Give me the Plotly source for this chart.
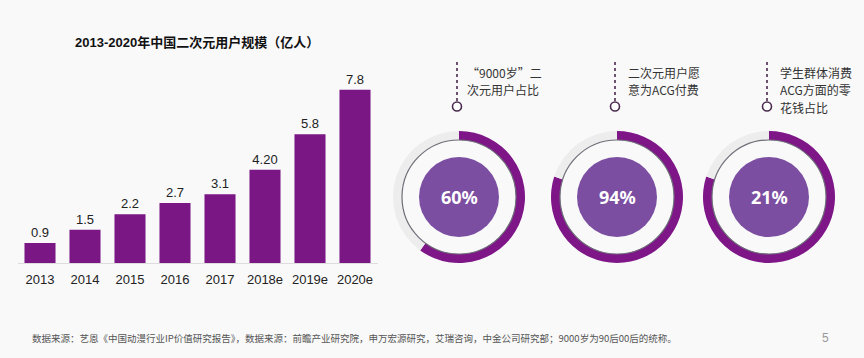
import plotly.graph_objects as go

W, H = 864, 358

# ---- data ----
years = ["2013", "2014", "2015", "2016", "2017", "2018e", "2019e", "2020e"]
users = [0.9, 1.5, 2.2, 2.7, 3.1, 4.20, 5.8, 7.8]
user_labels = ["0.9", "1.5", "2.2", "2.7", "3.1", "4.20", "5.8", "7.8"]

ring_values = ["60%", "94%", "21%"]
ring_fill = [0.60, 0.80, 0.80]  # arc share as drawn in the picture
ring_labels = [["“9000岁”二", "次元用户占比"],
               ["二次元用户愿", "意为ACG付费"],
               ["学生群体消费", "ACG方面的零", "花钱占比"]]

title = "2013-2020年中国二次元用户规模（亿人）"
footer = ("数据来源：艺恩《中国动漫行业IP价值研究报告》，数据来源：前瞻产业研究院，"
          "申万宏源研究，艾瑞咨询，中金公司研究部；9000岁为90后00后的统称。")
page_no = "5"

# ---- style ----
BAR = "#7A1785"
ARC = "#7E1688"
TRACK = "#EDEDED"
DISK = "#7B4EA1"
TXT = "#222222"
FONT = "Liberation Sans, Noto Sans CJK SC, sans-serif"
CJK = "Noto Sans CJK SC, sans-serif"

def px(x):
    return x / W

def py(y):
    return 1 - y / H

fig = go.Figure()

fig.add_trace(go.Bar(
    x=years, y=users, text=user_labels, textposition="outside",
    textfont=dict(size=13, color=TXT, family=FONT),
    marker=dict(color=BAR, line=dict(width=0)),
    width=0.69, cliponaxis=False, hoverinfo="skip",
))

centers = [459, 617, 769]
cy = 197
R_OUT, R_IN, R_DISK = 66, 57, 40
label_x = [466, 627, 779]
line_y0, line_step = 72, 17.6

shapes = []
annotations = []
for i, cx in enumerate(centers):
    fig.add_trace(go.Pie(
        values=[ring_fill[i], 1 - ring_fill[i]],
        marker=dict(colors=[ARC, TRACK], line=dict(width=0)),
        hole=R_IN / R_OUT, sort=False, direction="clockwise", rotation=0,
        textinfo="none", hoverinfo="skip", showlegend=False,
        domain=dict(x=[px(cx - R_OUT), px(cx + R_OUT)],
                    y=[py(cy + R_OUT), py(cy - R_OUT)]),
    ))
    fig.add_trace(go.Pie(
        values=[1], marker=dict(colors=[DISK], line=dict(width=0)),
        textinfo="none", hoverinfo="skip", showlegend=False,
        domain=dict(x=[px(cx - R_DISK), px(cx + R_DISK)],
                    y=[py(cy + R_DISK), py(cy - R_DISK)]),
    ))
    shapes.append(dict(type="circle", xref="paper", yref="paper",
                       x0=px(cx - R_IN), x1=px(cx + R_IN),
                       y0=py(cy + R_IN), y1=py(cy - R_IN),
                       line=dict(color="#6E6E78", width=1.2), layer="above"))
    # connector
    lx = cx - 2
    shapes.append(dict(type="line", xref="paper", yref="paper",
                       x0=px(lx), x1=px(lx), y0=py(62), y1=py(101),
                       line=dict(color="#4B2A4F", width=1.6, dash="3px,3px")))
    shapes.append(dict(type="circle", xref="paper", yref="paper",
                       x0=px(lx - 4.5), x1=px(lx + 4.5),
                       y0=py(111), y1=py(102),
                       line=dict(color="#4B2A4F", width=1.6),
                       fillcolor="white"))
    annotations.append(dict(text=ring_values[i], x=px(cx), y=py(cy),
                            xref="paper", yref="paper", showarrow=False,
                            xanchor="center", yanchor="middle",
                            font=dict(size=18, color="white",
                                      family="Noto Sans, sans-serif", weight="bold")))
    for j, line in enumerate(ring_labels[i]):
        annotations.append(dict(text=line, x=px(label_x[i]),
                                y=py(line_y0 + j * line_step),
                                xref="paper", yref="paper", showarrow=False,
                                xanchor="left", yanchor="middle", borderpad=0,
                                font=dict(size=12, color="#333333", family=CJK)))

annotations.append(dict(text="<b>" + title + "</b>", x=px(197), y=py(42),
                        xref="paper", yref="paper", showarrow=False,
                        xanchor="center", yanchor="middle",
                        font=dict(size=13, color="#111111", family=FONT)))
annotations.append(dict(text=footer, x=px(30), y=py(338), xref="paper", yref="paper",
                        showarrow=False, xanchor="left", yanchor="middle",
                        font=dict(size=9.5, color="#555555", family=CJK)))
annotations.append(dict(text=page_no, x=px(825), y=py(338), xref="paper", yref="paper",
                        showarrow=False, xanchor="center", yanchor="middle",
                        font=dict(size=12, color="#999999", family=FONT)))

y_bottom, y_top = 263, 80
scale = 22.2
fig.update_layout(
    width=W, height=H, margin=dict(l=0, r=0, t=0, b=0),
    paper_bgcolor="#F9F9F9", plot_bgcolor="rgba(0,0,0,0)",
    showlegend=False,
    xaxis=dict(domain=[px(17.5), px(377.5)], range=[-0.5, 7.5],
               showgrid=False, zeroline=False, showline=True,
               linecolor="#DDDDDD", linewidth=1, ticks="",
               tickfont=dict(size=13, color=TXT, family=FONT),
               ticklabelstandoff=4, fixedrange=True),
    yaxis=dict(domain=[py(y_bottom), py(y_top)],
               range=[0, (y_bottom - y_top) / scale],
               visible=False, fixedrange=True),
    shapes=shapes, annotations=annotations,
)

fig.write_html("out.html", config={"displayModeBar": False},
               post_script="document.body.style.margin='0';document.body.style.overflow='hidden';")
